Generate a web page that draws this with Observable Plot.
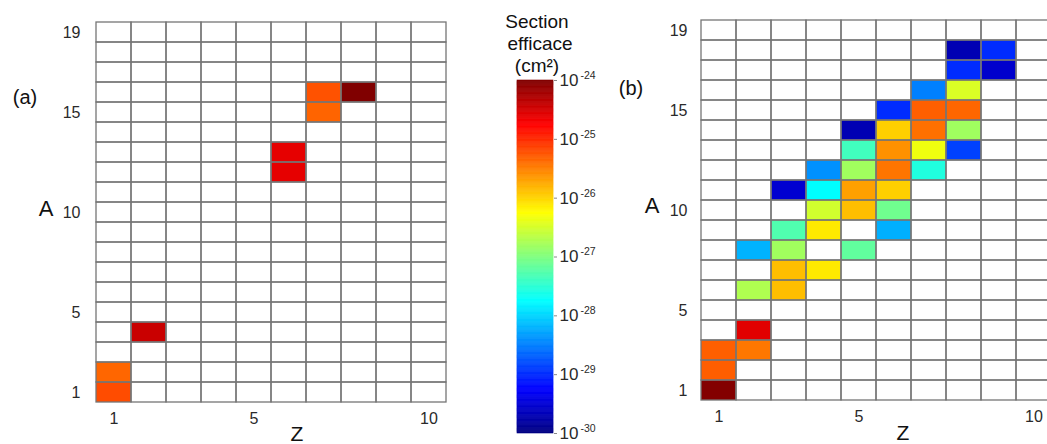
<!DOCTYPE html>
<html><head><meta charset="utf-8">
<script src="https://cdn.jsdelivr.net/npm/d3@7"></script>
<script src="https://cdn.jsdelivr.net/npm/@observablehq/plot@0.6"></script>
<style>
body{margin:0;background:#fff;font-family:"Liberation Sans",Arial,sans-serif;}
#root{position:relative;width:1047px;height:444px;overflow:hidden;background:#fff;}
.abs{position:absolute;top:0;}
.lbl{position:absolute;color:#111;line-height:1;white-space:nowrap;transform:translate(-50%,-50%);font-family:"Liberation Sans",Arial,sans-serif;}
</style></head><body><div id="root"></div>
<script>
// ---- categories / ticks ----
const zValues = d3.range(1, 11);
const aValues = d3.range(1, 20);
const zTicks = [1, 5, 10];
const aTicks = [1, 5, 10, 15, 19];
const sigmaExponents = [-30, -29, -28, -27, -26, -25, -24];

// ---- panel (a): log10 cross-section (cm^2) ----
const panelA_Z   = [1, 1, 2, 6, 6, 7, 7, 8];
const panelA_A   = [1, 2, 4, 12, 13, 15, 16, 16];
const panelA_log = [-25.2, -25.35, -24.43, -24.6, -24.6, -25.34, -25.23, -24.0];

// ---- panel (b): log10 cross-section (cm^2) ----
const panelB_Z   = [8, 9, 8, 9, 7, 8, 6, 7, 8, 5, 6, 7, 8, 5, 6, 7, 8, 4, 5, 6, 7, 3, 4, 5, 6, 4, 5, 6, 3, 4, 6, 2, 3, 5, 3, 4, 2, 3, 2, 1, 2, 1, 1];
const panelB_A   = [18, 18, 17, 17, 16, 16, 15, 15, 15, 14, 14, 14, 14, 13, 13, 13, 13, 12, 12, 12, 12, 11, 11, 11, 11, 10, 10, 10, 9, 9, 9, 8, 8, 8, 7, 7, 6, 6, 4, 3, 3, 2, 1];
const panelB_log = [-29.7, -29.0, -29.0, -29.55, -28.5, -26.47, -29.0, -25.31, -25.35, -29.7, -25.97, -25.41, -26.81, -27.37, -25.6, -26.34, -28.87, -28.4, -26.8, -25.44, -27.56, -29.53, -27.75, -25.69, -25.97, -26.52, -25.87, -27.09, -27.28, -26.12, -28.22, -28.2, -26.8, -27.18, -25.87, -26.12, -26.72, -25.87, -24.57, -25.31, -25.45, -25.3, -24.02];

// ---- jet colormap stops ----
const jetDomain = [-30, -29.25, -27.75, -26.25, -24.75, -24];
const jetColors = ["#000080", "#0000ff", "#00ffff", "#ffff00", "#ff0000", "#800000"];
const colorScale = {type: "linear", domain: jetDomain, range: jetColors, interpolate: "rgb", clamp: true};

const font = '"Liberation Sans", Arial, sans-serif';
const root = document.getElementById("root");

function panel(Zs, As, Ls, o) {
  const data = Zs.map((z, i) => ({Z: z, A: As[i], logSigma: Ls[i]}));
  const grid = d3.cross(zValues, aValues).map(([z, a]) => ({Z: z, A: a}));
  return Plot.plot({
    width: o.width, height: 444,
    marginLeft: o.ml, marginRight: o.mr, marginTop: o.mt, marginBottom: o.mb,
    x: {type: "band", domain: zValues, padding: 0},
    y: {type: "band", domain: aValues.slice().reverse(), padding: 0},
    color: colorScale,
    style: {fontFamily: font, fontSize: "16px", color: "#2a2a2a", background: "transparent", overflow: "visible"},
    marks: [
      Plot.cell(data, {x: "Z", y: "A", fill: "logSigma"}),
      Plot.cell(grid, {x: "Z", y: "A", fill: "none", stroke: "#767676", strokeWidth: 1.3}),
      Plot.axisX({ticks: zTicks, tickSize: 0, tickPadding: 5, fontSize: 16, label: null}),
      Plot.axisY({ticks: aTicks, tickSize: 0, tickPadding: o.tp, fontSize: 16, label: null})
    ]
  });
}

const pa = panel(panelA_Z, panelA_A, panelA_log, {width: 480, ml: 95, mr: 33, mt: 16, mb: 37, tp: 15});
pa.classList.add("abs"); pa.style.left = "0px";
root.appendChild(pa);

const pb = panel(panelB_Z, panelB_A, panelB_log, {width: 460, ml: 100, mr: 8, mt: 14, mb: 39, tp: 13});
pb.classList.add("abs"); pb.style.left = "600px";
root.appendChild(pb);

// ---- colorbar ----
const barStep = 0.02;
const barSlices = d3.range(-30, -24, barStep);
const cb = Plot.plot({
  width: 110, height: 444,
  marginTop: 80, marginBottom: 11, marginLeft: 17, marginRight: 57,
  x: {domain: [0, 1], axis: null},
  y: {domain: [-30, -24]},
  color: colorScale,
  style: {fontFamily: font, fontSize: "17px", color: "#2a2a2a", background: "transparent", overflow: "visible"},
  marks: [
    Plot.rect(barSlices, {x1: () => 0, x2: () => 1, y1: d => d, y2: d => Math.min(d + barStep, -24), fill: d => d + barStep / 2, stroke: d => d + barStep / 2, strokeWidth: 0.6}),
    Plot.axisY({anchor: "right", ticks: sigmaExponents, tickSize: 3, tickPadding: 3, tickFormat: () => "10", fontSize: 17, label: null, stroke: "#888"}),
    Plot.text(sigmaExponents, {x: () => 1, y: d => d, text: d => String(d), textAnchor: "start", dx: 27, dy: -5, fontSize: 10.5, fill: "#2a2a2a"})
  ]
});
cb.classList.add("abs"); cb.style.left = "500px";
root.appendChild(cb);

// ---- labels ----
function label(text, x, y, size) {
  const d = document.createElement("div");
  d.className = "lbl";
  d.textContent = text;
  d.style.left = x + "px"; d.style.top = y + "px"; d.style.fontSize = size + "px";
  root.appendChild(d);
}
label("(a)", 25, 97, 20);
label("(b)", 631, 88, 20);
label("A", 46, 209, 22);
label("A", 652, 206, 22);
label("Z", 297, 433, 21);
label("Z", 903, 432, 21);
label("Section", 537, 21, 19);
label("efficace", 540, 43, 19);
label("(cm²)", 537, 65, 19);
</script></body></html>
